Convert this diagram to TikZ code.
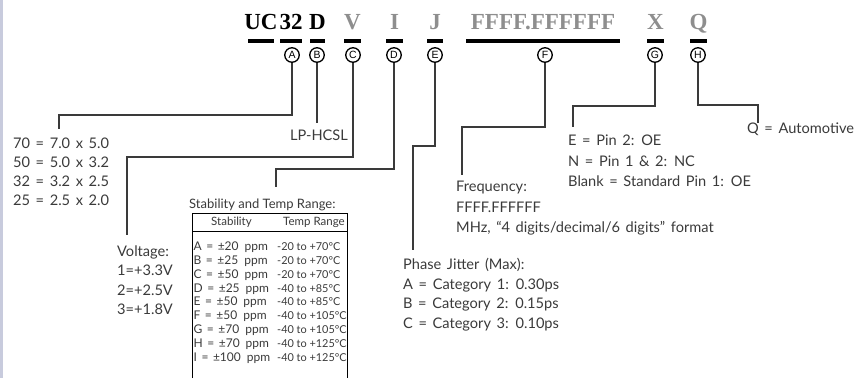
\documentclass[tikz,border=0pt]{standalone}
\usepackage{fontspec}
\setmainfont{Lato}[WordSpace=1.5]
\newfontfamily\codefont{Liberation Serif}
\newfontfamily\tagfont{Liberation Sans}
\newfontfamily\tblfont{Lato}
\definecolor{textgray}{HTML}{3A3A3A}
\definecolor{codegray}{HTML}{8E8E8E}
\definecolor{strip}{HTML}{C8CBDD}
\newcommand{\stab}[2]{#1\hspace{4.5pt}=\hspace{4.5pt}±#2\hspace{6pt}ppm}
\begin{document}
\begin{tikzpicture}[x=1pt,y=-1pt,
  txt/.style={anchor=west,inner sep=0pt,text height=0.72em,text depth=0pt,text=textgray,font=\fontsize{14.6}{16}\selectfont},
  tbl/.style={txt,font=\tblfont\fontsize{12}{13}\selectfont},
  tblr/.style={txt,font=\tblfont\fontsize{10.9}{13}\selectfont},
  code/.style={anchor=base,inner sep=0pt,font=\codefont\bfseries\fontsize{23}{25}\selectfont},
  bar/.style={fill=black,inner sep=0pt,minimum height=4pt},
  tag/.style={circle,draw=black,line width=1.3pt,minimum size=14.5pt,inner sep=0pt,font=\tagfont\fontsize{10.5}{10.5}\selectfont},
  conn/.style={draw=textgray,line width=1.3pt}]
\useasboundingbox (0,0) rectangle (867,378);
\fill[strip] (0,0) rectangle (3,378);
% code letters
\node[code] (tUC) at (261,29) {UC};
\node[code] (t32) at (291,29) {32};
\node[code] (tD) at (317.5,29) {D};
\node[code,text=codegray] (tV) at (352.5,29) {V};
\node[code,text=codegray] (tI) at (394.5,29) {I};
\node[code,text=codegray] (tJ) at (435,29) {J};
\node[code,text=codegray] (tF) at (543,29) {FFFF.FFFFFF};
\node[code,text=codegray] (tX) at (655.5,29) {X};
\node[code,text=codegray] (tQ) at (698.5,29) {Q};
% bars
\node[bar,minimum width=26pt] (bUC) at (261,41) {};
\node[bar,minimum width=22pt] (b32) at (291,41) {};
\node[bar,minimum width=15pt] (bD) at (317.5,41) {};
\node[bar,minimum width=17pt] (bV) at (352.5,41) {};
\node[bar,minimum width=17pt] (bI) at (394.5,41) {};
\node[bar,minimum width=16pt] (bJ) at (435,41) {};
\node[bar,minimum width=154pt] (bF) at (543,41) {};
\node[bar,minimum width=17pt] (bX) at (655.5,41) {};
\node[bar,minimum width=17pt] (bQ) at (698.5,41) {};
% tags
\node[tag] (cA) at (292,55) {A};
\node[tag] (cB) at (317,55) {B};
\node[tag] (cC) at (353,55) {C};
\node[tag] (cD) at (394,55) {D};
\node[tag] (cE) at (435,55) {E};
\node[tag] (cF) at (545,55) {F};
\node[tag] (cG) at (655,55) {G};
\node[tag] (cH) at (698,55) {H};
% A
\foreach \t [count=\i from 0] in {70 = 7.0 x 5.0,50 = 5.0 x 3.2,32 = 3.2 x 2.5,25 = 2.5 x 2.0}
  \node[txt] (a\i) at (13,145+19*\i) {\t};
\coordinate (kA) at (59,115); \coordinate (eA) at (59,129);
\draw[conn] (cA.south) |- (kA) -- (eA);
% B
\node[txt] (lB) at (290,137) {LP-HCSL};
\coordinate (eB) at (317,123);
\draw[conn] (cB.south) -- (eB);
% C
\foreach \t [count=\i from 0] in {Voltage:,1=+3.3V,2=+2.5V,3=+1.8V}
  \node[txt] (v\i) at (117,253+19.3*\i) {\t};
\coordinate (kC) at (127,157); \coordinate (eC) at (127,235);
\draw[conn] (cC.south) |- (kC) -- (eC);
% D
\node[txt,font=\tblfont\fontsize{13}{15}\selectfont] (dT) at (189,205) {Stability and Temp Range:};
\coordinate (kD) at (276,169); \coordinate (eD) at (276,187);
\draw[conn] (cD.south) |- (kD) -- (eD);
\coordinate (tbTL) at (192,213); \coordinate (tbTR) at (347,213);
\coordinate (tbBL) at (192,378); \coordinate (tbBR) at (347,378);
\draw[black,line width=0.8pt] (tbBL) -- (tbTL) -- (tbTR) -- (tbBR);
\draw[black,line width=0.8pt] (192,231) -- (347,231);
\node[tbl,anchor=center,font=\tblfont\fontsize{11.5}{13}\selectfont] (hS) at (231.5,222) {Stability};
\node[tbl,anchor=center,font=\tblfont\fontsize{11.5}{13}\selectfont] (hT) at (314,222) {Temp Range};
\foreach \s/\p/\r [count=\i from 0] in {A/20/-20 to +70°C,B/25/-20 to +70°C,C/50/-20 to +70°C,D/25/-40 to +85°C,E/50/-40 to +85°C,F/50/-40 to +105°C,G/70/-40 to +105°C,H/70/-40 to +125°C,I/100/-40 to +125°C}{
  \node[tbl] (s\i) at (193.5,247+13.8*\i) {\stab{\s}{\p}};
  \node[tblr] (r\i) at (277,247+13.8*\i) {\r};
}
% E
\foreach \t [count=\i from 0] in {Phase Jitter (Max):,A = Category 1: 0.30ps,B = Category 2: 0.15ps,C = Category 3: 0.10ps}
  \node[txt] (p\i) at (403,266+19.6*\i) {\t};
\coordinate (kE) at (413,146); \coordinate (eE) at (413,250);
\draw[conn] (cE.south) |- (kE) -- (eE);
% F
\node[txt] (f0) at (456,188) {Frequency:};
\node[txt] (f1) at (456,208.5) {FFFF.FFFFFF};
\node[txt] (f2) at (456,229) {MHz, “4 digits/decimal/6 digits” format};
\coordinate (kF) at (462,127); \coordinate (eF) at (462,175);
\draw[conn] (cF.south) |- (kF) -- (eF);
% G
\foreach \t [count=\i from 0] in {E = Pin 2: OE,N = Pin 1 \& 2: NC,Blank = Standard Pin 1: OE}
  \node[txt] (g\i) at (568,142+20.5*\i) {\t};
\coordinate (kG) at (573,106); \coordinate (eG) at (573,127);
\draw[conn] (cG.south) |- (kG) -- (eG);
% H
\node[txt] (q0) at (747,130) {Q = Automotive};
\coordinate (kH) at (758,105); \coordinate (eH) at (758,123);
\draw[conn] (cH.south) |- (kH) -- (eH);
\end{tikzpicture}
\end{document}
